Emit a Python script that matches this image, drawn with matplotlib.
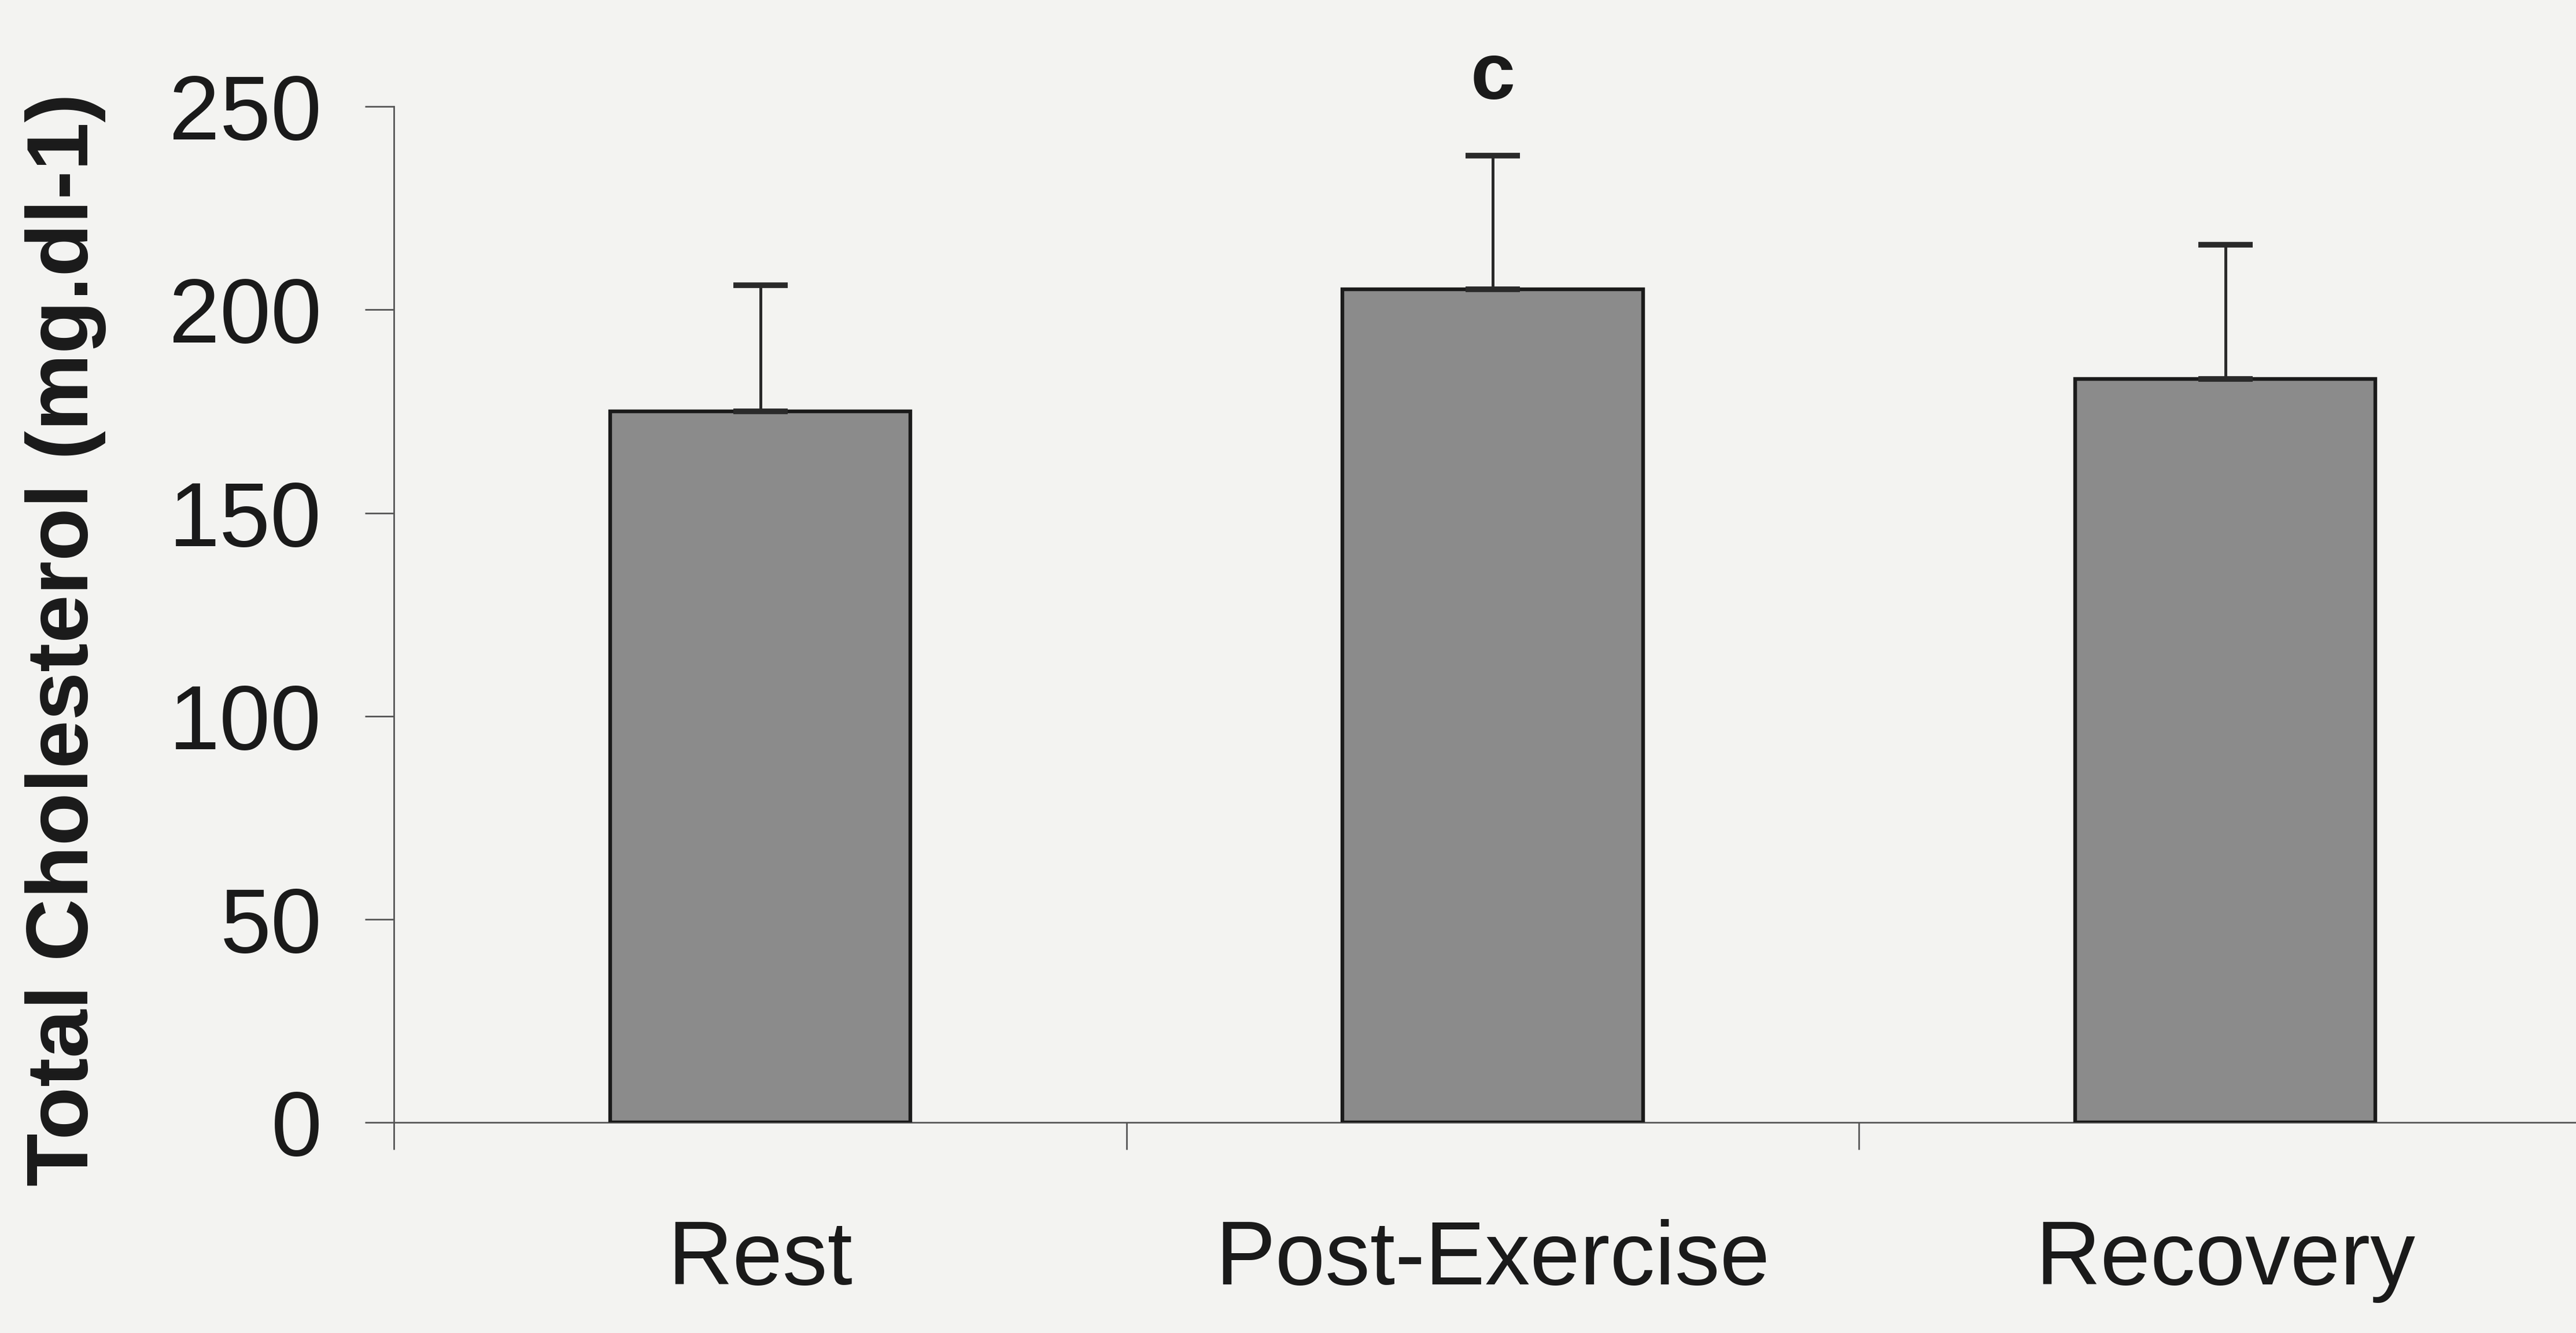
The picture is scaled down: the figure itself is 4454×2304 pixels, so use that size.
import matplotlib
matplotlib.use("Agg")
import matplotlib.pyplot as plt

# Data
categories = ["Rest", "Post-Exercise", "Recovery"]
means = [175, 205, 183]
sd_upper = [31, 33, 33]
annotations = ["", "c", ""]
yticks = [0, 50, 100, 150, 200, 250]

plt.rcParams['font.family'] = ['Liberation Sans', 'DejaVu Sans']

bg = '#f3f3f1'
fig = plt.figure(figsize=(22.27, 11.52), dpi=200, facecolor=bg)
ax = fig.add_axes([0.153, 0.158, 0.853, 0.762])
ax.set_facecolor(bg)

x = list(range(len(categories)))
ax.bar(x, means, width=0.41, color='#8b8b8b', edgecolor='#1a1a1a', linewidth=2.3, zorder=3)
ax.errorbar(x, means, yerr=[[0] * len(means), sd_upper], fmt='none', ecolor='#2a2a2a',
            elinewidth=1.8, capsize=17, capthick=3.5, zorder=4)

for xi, m, s, a in zip(x, means, sd_upper, annotations):
    if a:
        ax.text(xi, 257, a, ha='center', va='center', fontsize=50, fontweight='bold',
                color='#1a1a1a', clip_on=False)

ax.set_xlim(-0.5, 2.5)
ax.set_ylim(0, 250)
ax.set_yticks(yticks)
ax.set_yticklabels([str(v) for v in yticks], fontsize=57, color='#1a1a1a')
ax.set_xticks(x)
ax.set_xticklabels(categories, fontsize=56, color='#1a1a1a')
ax.set_xticks([-0.5, 0.5, 1.5, 2.5], minor=True)
ax.tick_params(axis='x', which='major', length=0, pad=60)
ax.tick_params(axis='x', which='minor', length=17, width=1.0, color='#555555', direction='out')
ax.tick_params(axis='y', length=18, width=1.0, color='#555555', pad=27, direction='out')

for side in ['top', 'right']:
    ax.spines[side].set_visible(False)
for side in ['left', 'bottom']:
    ax.spines[side].set_color('#555555')
    ax.spines[side].set_linewidth(1.0)

fig.text(0.0255, 0.52, "Total Cholesterol (mg.dl-1)", rotation=90, ha='center', va='center',
         fontsize=54, fontweight='bold', color='#1a1a1a')

fig.savefig("out.png", dpi=200, facecolor=bg)
